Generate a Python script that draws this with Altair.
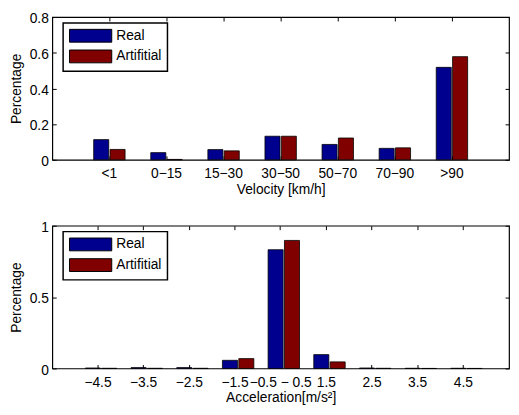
import altair as alt
import pandas as pd

velocity_cats = ["<1", "0\u221215", "15\u221230", "30\u221250", "50\u221270", "70\u221290", ">90"]
velocity_real = [0.113, 0.040, 0.057, 0.132, 0.086, 0.064, 0.518]
velocity_artificial = [0.058, 0.002, 0.050, 0.132, 0.122, 0.067, 0.578]
velocity_yticks = [0, 0.2, 0.4, 0.6, 0.8]

accel_cats = ["\u22124.5", "\u22123.5", "\u22122.5", "\u22121.5", "\u22120.5 \u2212 0.5",
              "1.5", "2.5", "3.5", "4.5"]
accel_real = [0.003, 0.006, 0.006, 0.057, 0.832, 0.097, 0.003, 0.001, 0.001]
accel_artificial = [0.001, 0.001, 0.001, 0.069, 0.897, 0.046, 0.001, 0.0, 0.0]
accel_yticks = [0, 0.5, 1]

series = ["Real", "Artifitial"]
colors = ["#00008F", "#800000"]

FONT = "Liberation Sans"
FS = 14
W, H = 464, 145


def panel(cats, real, art, ymax, yticks, xtitle):
    df = pd.DataFrame({
        "cat": cats * 2,
        "series": [series[0]] * len(cats) + [series[1]] * len(cats),
        "value": real + art,
    })
    xscale = alt.Scale(type="band", domain=cats, paddingInner=0.45, paddingOuter=0.725)
    yscale = alt.Scale(domain=[0, ymax], nice=False, zero=True)
    base = alt.Chart(df)
    bars = base.mark_bar(stroke="black", strokeWidth=0.8).encode(
        x=alt.X("cat:N", scale=xscale, sort=cats, title=xtitle,
                axis=alt.Axis(orient="bottom", labelAngle=0, tickSize=0, domain=False, grid=False,
                              labelPadding=7, titlePadding=2)),
        xOffset=alt.XOffset("series:N", sort=series, scale=alt.Scale(domain=series, paddingInner=0.08)),
        y=alt.Y("value:Q", scale=yscale, title="Percentage",
                axis=alt.Axis(orient="left", values=yticks, format="~g", tickSize=0, domain=False,
                              grid=False, labelPadding=4, titlePadding=6, labelOffset=2)),
        color=alt.Color("series:N", sort=series,
                        scale=alt.Scale(domain=series, range=colors),
                        legend=alt.Legend(orient="none", legendX=11, legendY=6, title=None,
                                          strokeColor="black", fillColor="white")),
    )
    ticks_bl = base.mark_point(opacity=0).encode(
        x=alt.X("cat:N", scale=xscale, sort=cats,
                axis=alt.Axis(orient="bottom", labels=False, domain=False, tickSize=4, offset=-4,
                              title=None, grid=False, tickColor="black")),
        y=alt.Y("value:Q", scale=yscale,
                axis=alt.Axis(orient="left", values=yticks, labels=False, domain=False, tickSize=4,
                              offset=-4, title=None, grid=False, tickColor="black")),
    )
    ticks_tr = base.mark_point(opacity=0).encode(
        x=alt.X("cat:N", scale=xscale, sort=cats,
                axis=alt.Axis(orient="top", labels=False, domain=False, tickSize=4, offset=-4,
                              title=None, grid=False, tickColor="black")),
        y=alt.Y("value:Q", scale=yscale,
                axis=alt.Axis(orient="right", values=yticks, labels=False, domain=False, tickSize=4,
                              offset=-4, title=None, grid=False, tickColor="black")),
    )
    return alt.layer(bars, ticks_bl, ticks_tr).resolve_axis(
        x="independent", y="independent").properties(width=W, height=H)


top = panel(velocity_cats, velocity_real, velocity_artificial, 0.8, velocity_yticks, "Velocity [km/h]")
bottom = panel(accel_cats, accel_real, accel_artificial, 1.0, accel_yticks, "Acceleration[m/s\u00b2]")

chart = alt.vconcat(top, bottom, spacing=23).resolve_scale(color="independent").properties(
    padding={"left": 0, "top": 0, "right": 0, "bottom": 0}, background="white"
).configure_view(stroke="black", strokeWidth=1.2).configure_axis(
    labelFont=FONT, titleFont=FONT, labelFontSize=FS, titleFontSize=FS,
    titleFontWeight="normal", labelColor="black", titleColor="black"
).configure_legend(
    strokeColor="black", strokeWidth=1.5, fillColor="white", padding=6,
    symbolType="M-1,-1H5.6V1H-1Z", symbolSize=169,
    symbolStrokeColor="black", symbolStrokeWidth=1, symbolOpacity=1,
    labelFontSize=FS, labelFont=FONT, labelColor="black", labelOffset=34, rowPadding=3
)

chart.save("out.html", embed_options={"renderer": "svg", "actions": False})
